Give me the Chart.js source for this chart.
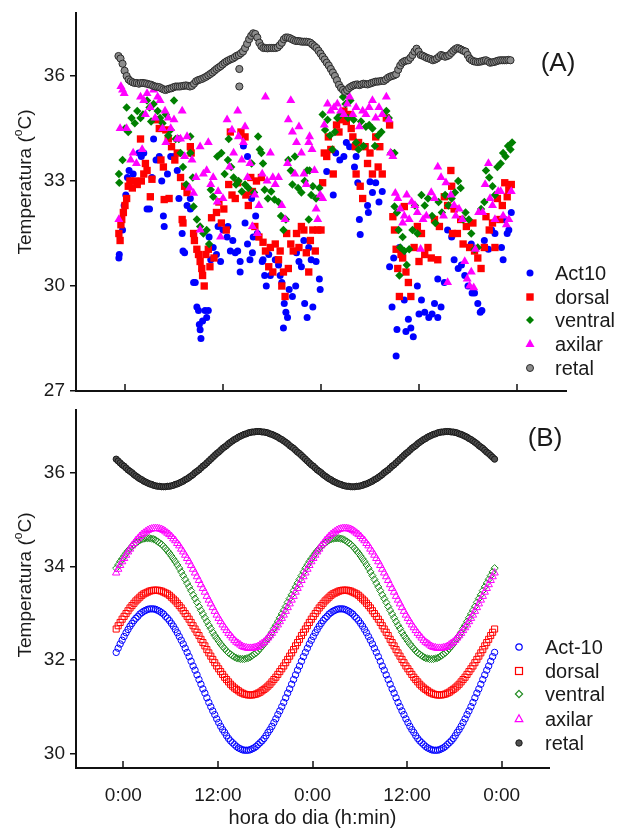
<!DOCTYPE html>
<html lang="pt">
<head>
<meta charset="utf-8">
<title>Temperatura</title>
<script src="https://cdn.jsdelivr.net/npm/chart.js@4.4.1/dist/chart.umd.min.js"></script>
<style>
  html, body { margin:0; padding:0; background:#ffffff; }
  #wrap { position:relative; width:618px; height:830px; overflow:hidden; font-family:"Liberation Sans", Arial, sans-serif; color:#1a1a1a; }
  canvas { position:absolute; left:0; }
  #cA { top:0; }
  #cB { top:400px; }
  .ytitle { position:absolute; width:300px; height:24px; line-height:24px; text-align:center; font-size:19px; transform:rotate(-90deg); white-space:nowrap; }
  .ytitle sup { font-size:12px; line-height:0; position:relative; top:-2px; vertical-align:super; }
  .panel { position:absolute; font-size:26px; line-height:30px; width:60px; text-align:center; }
  .leg { position:absolute; font-size:20px; line-height:24px; height:24px; white-space:nowrap; }
  .leg svg { position:absolute; }
</style>
</head>
<body>
<div id="wrap">
  <canvas id="cA" width="618" height="400"></canvas>
  <canvas id="cB" width="618" height="430"></canvas>
  <div class="ytitle" style="left:-125px;top:169.5px;">Temperatura (<sup>o</sup>C)</div>
  <div class="ytitle" style="left:-125px;top:573px;">Temperatura (<sup>o</sup>C)</div>
  <div class="panel" style="left:528px;top:47px;">(A)</div>
  <div class="panel" style="left:515px;top:422px;">(B)</div>
</div>
<script>
// ---------- axis ticks ----------
const tickHours = [0, 12, 24, 36, 48];
const tickLabels = ['0:00', '12:00', '0:00', '12:00', '0:00'];
const yTicksA = [27, 30, 33, 36];
const yTicksB = [30, 32, 34, 36];

// ---------- legend names ----------
const legendNamesA = ['Act10', 'dorsal', 'ventral', 'axilar', 'retal'];
const legendNamesB = ['Act-10', 'dorsal', 'ventral', 'axilar', 'retal'];

// ---------- panel A : measured values [hour, °C] ----------
const act10A = [[-0.75,30.8],[-0.7,30.9],[-0.3,31.6],[-0.1,32.3],[0.1,32.6],[0.3,33.1],[0.5,33.3],[1.0,33.2],[1.7,33.8],[2.0,33.7],[2.3,33.8],[2.7,32.2],[3.0,32.2],[3.3,33.1],[3.5,34.2],[3.8,33.6],[4.2,33.7],[4.5,33.0],[4.7,32.0],[4.8,31.7],[5.2,33.2],[5.6,33.7],[6.0,33.7],[6.4,33.3],[6.6,32.5],[7.0,31.5],[7.1,31.0],[7.3,30.95],[7.6,32.3],[8.0,32.2],[8.0,32.5],[8.4,30.1],[8.6,30.1],[8.8,29.4],[9.0,29.3],[9.1,28.9],[9.2,28.75],[9.3,28.5],[9.5,29.0],[9.8,29.3],[10.0,29.1],[10.2,29.3],[10.3,31.4],[10.5,30.75],[10.8,31.1],[11.2,30.9],[11.4,31.7],[11.7,30.7],[12.0,31.6],[12.5,31.4],[12.6,31.7],[12.9,31.0],[13.2,31.3],[13.5,30.95],[13.8,31.0],[14.1,30.4],[14.1,30.7],[14.5,34.0],[14.7,31.8],[15.0,33.7],[15.0,31.2],[15.3,30.75],[15.5,32.5],[15.6,30.95],[15.7,31.4],[16.0,32.0],[16.2,31.5],[16.8,30.7],[16.9,30.75],[17.1,30.3],[17.3,30.0],[17.6,30.9],[17.8,30.3],[18.4,30.75],[18.8,30.6],[19.0,30.3],[19.2,30.1],[19.4,28.8],[19.5,29.5],[19.7,29.25],[19.9,29.1],[20.1,29.9],[20.5,29.7],[20.9,30.0],[21.0,30.95],[21.3,30.7],[21.6,30.55],[21.9,31.3],[22.0,29.5],[22.3,29.1],[22.5,31.1],[22.8,30.75],[23.0,29.4],[23.4,30.7],[23.8,30.2],[23.9,29.9],[24.7,33.27],[25.5,32.6],[25.8,33.8],[26.3,33.6],[26.8,33.7],[27.1,34.1],[27.5,33.98],[28.1,33.4],[28.3,33.7],[28.5,32.95],[28.7,31.9],[28.8,31.47],[29.7,32.3],[29.8,32.1],[30.0,32.98],[30.3,32.67],[30.7,32.95],[31.1,32.4],[31.5,32.7],[32.4,30.55],[32.7,29.4],[32.9,30.8],[33.2,28.0],[33.3,28.76],[33.6,31.1],[34.0,30.95],[34.2,29.6],[34.4,28.7],[34.7,29.05],[35.0,28.8],[35.3,28.55],[35.8,30.0],[36.0,29.2],[36.3,29.6],[36.7,29.25],[37.2,29.1],[37.6,29.2],[37.9,29.5],[38.3,30.2],[38.3,29.1],[38.7,29.4],[39.1,30.1],[39.5,31.6],[40.0,31.4],[40.3,30.75],[40.8,30.5],[41.2,30.6],[41.6,30.3],[42.0,30.0],[42.4,31.2],[42.5,29.8],[42.8,29.8],[43.2,29.5],[43.5,29.25],[43.7,29.3],[44.0,31.3],[44.5,31.05],[44.9,31.6],[45.3,31.5],[46.1,31.1],[46.3,30.75],[46.5,31.9],[46.8,31.5],[47.0,31.6],[47.3,32.1]];

const dorsalA = [[-0.75,31.5],[-0.6,31.3],[-0.5,31.75],[-0.4,31.9],[-0.2,32.1],[0.0,32.3],[0.2,32.5],[0.4,32.85],[0.6,33.0],[0.9,32.8],[1.2,33.0],[1.5,32.9],[1.9,34.2],[2.0,33.0],[2.3,33.2],[2.5,33.5],[2.7,33.3],[3.1,32.55],[3.3,33.05],[3.9,34.75],[4.2,34.5],[4.4,33.6],[4.7,33.4],[4.8,32.47],[5.0,34.46],[5.3,34.2],[5.4,32.5],[5.7,33.98],[6.1,33.6],[6.4,33.8],[6.8,33.1],[7.0,31.9],[7.1,31.8],[7.3,32.85],[7.6,32.67],[8.0,33.98],[8.1,33.8],[8.4,31.5],[8.5,31.3],[8.8,31.05],[9.0,30.9],[9.2,30.7],[9.4,30.5],[9.5,30.3],[9.7,30.0],[9.9,30.9],[10.2,31.05],[10.4,30.55],[10.6,31.95],[10.9,30.8],[11.2,32.1],[11.5,32.4],[11.8,31.8],[12.1,32.2],[12.4,31.6],[12.7,32.9],[12.9,34.4],[13.1,32.6],[13.5,32.5],[13.8,32.95],[14.2,34.4],[14.7,34.26],[14.8,32.6],[15.1,32.3],[15.4,33.1],[15.6,32.7],[15.9,31.7],[16.1,33.0],[16.4,31.4],[16.7,33.1],[16.9,31.25],[17.2,31.0],[17.6,30.55],[17.8,31.1],[18.1,30.4],[18.4,31.2],[18.8,30.75],[19.0,31.0],[19.2,30.0],[19.4,30.4],[19.6,29.7],[19.8,31.5],[20.0,30.5],[20.3,31.2],[20.6,31.0],[21.0,31.5],[21.3,31.1],[21.6,31.7],[21.9,31.6],[22.2,30.95],[22.5,30.4],[22.7,31.3],[23.0,31.6],[23.3,31.0],[23.6,31.6],[24.0,31.6],[24.2,32.95],[24.4,33.8],[24.7,33.7],[24.9,34.26],[25.2,33.9],[25.5,33.2],[25.9,34.6],[26.2,34.4],[26.5,34.75],[26.8,35.0],[27.1,34.7],[27.4,34.9],[27.7,34.5],[27.9,34.26],[28.2,33.98],[28.3,33.2],[28.6,34.1],[28.8,32.85],[29.1,32.5],[29.4,33.98],[29.7,33.5],[30.0,33.8],[30.3,33.2],[30.7,34.26],[31.0,33.4],[31.2,33.98],[31.5,33.2],[32.0,34.8],[32.4,34.6],[32.8,31.98],[33.0,31.6],[33.2,31.05],[33.4,30.5],[33.6,29.7],[33.8,30.9],[34.0,30.8],[34.2,32.27],[34.4,30.4],[34.7,30.1],[35.0,29.7],[35.4,31.1],[35.8,31.7],[36.0,30.7],[36.3,31.5],[36.7,30.9],[37.1,31.1],[37.5,30.8],[37.9,31.9],[38.3,30.75],[38.5,31.7],[39.1,32.55],[39.5,32.3],[39.9,33.3],[40.0,32.85],[40.1,31.5],[40.3,32.2],[40.7,31.5],[41.1,31.9],[41.4,31.2],[41.8,31.7],[42.2,31.1],[42.6,31.8],[42.8,31.0],[43.2,30.8],[43.6,30.5],[44.0,31.1],[44.2,31.98],[44.6,31.6],[45.0,31.8],[45.3,31.1],[45.6,32.5],[45.9,31.9],[46.2,32.3],[46.5,32.95],[46.8,32.55],[47.0,32.75],[47.3,32.9]];

const ventralA = [[-0.75,33.2],[-0.7,32.95],[-0.3,33.6],[0.0,34.5],[0.2,35.1],[0.4,34.4],[0.8,34.8],[1.2,34.65],[1.5,35.0],[1.9,34.8],[2.2,34.9],[2.7,35.3],[3.0,35.1],[3.2,34.7],[3.5,35.2],[4.0,35.0],[4.3,34.8],[4.6,34.65],[5.0,34.9],[5.3,34.3],[5.6,34.46],[6.0,35.3],[6.2,34.2],[6.6,34.2],[6.8,33.8],[7.1,33.4],[7.5,32.9],[8.0,33.8],[8.0,34.27],[8.3,33.1],[8.4,32.27],[8.8,31.9],[9.2,31.7],[9.6,31.5],[10.0,31.6],[10.3,31.2],[10.5,32.75],[10.8,32.55],[11.3,33.7],[11.8,33.8],[12.2,33.2],[12.6,33.6],[12.7,34.2],[13.0,33.4],[13.3,33.1],[13.6,32.9],[13.9,33.0],[14.3,32.7],[14.7,32.9],[15.1,32.8],[15.5,33.5],[15.8,32.67],[16.3,34.27],[16.5,33.9],[16.7,33.8],[16.9,33.5],[17.1,32.75],[17.5,32.5],[17.9,32.7],[18.3,32.47],[18.8,32.4],[19.1,32.0],[19.4,31.6],[19.7,31.9],[20.0,33.6],[20.3,33.3],[20.5,32.9],[20.8,33.7],[21.2,32.8],[21.6,32.67],[22.0,33.0],[22.3,33.3],[22.5,31.9],[22.6,33.3],[22.8,32.6],[23.0,32.85],[23.4,32.5],[23.8,32.8],[24.2,34.9],[24.5,34.46],[24.8,34.75],[25.1,34.3],[25.4,33.9],[25.7,34.4],[26.0,34.8],[26.4,34.9],[26.7,35.4],[27.0,35.2],[27.3,34.8],[27.6,35.3],[28.0,34.75],[28.3,34.1],[28.6,33.9],[28.9,34.7],[29.2,34.0],[29.5,34.55],[29.9,34.6],[30.3,34.5],[30.6,34.0],[31.0,34.3],[31.4,34.4],[32.0,35.0],[32.3,34.8],[32.6,33.8],[33.0,33.8],[33.0,32.27],[33.3,32.1],[33.5,31.6],[33.6,30.3],[33.7,31.1],[34.0,31.4],[34.2,31.0],[34.5,30.6],[34.8,31.05],[35.2,31.6],[35.5,32.3],[35.8,31.5],[36.3,32.6],[36.7,32.3],[37.1,32.5],[37.6,32.0],[38.0,31.8],[38.4,32.4],[38.8,32.1],[39.2,32.6],[39.6,32.3],[40.0,32.5],[40.4,32.67],[40.8,33.0],[41.1,32.8],[41.4,31.9],[41.7,32.1],[42.1,31.9],[42.4,31.5],[42.8,31.05],[43.2,31.1],[43.6,32.2],[44.0,32.4],[44.2,33.3],[44.6,33.1],[45.0,32.85],[45.3,32.6],[45.6,33.4],[46.0,33.5],[46.3,33.8],[46.6,33.7],[46.9,34.0],[47.2,33.9],[47.4,34.1]];

const axilarA = [[-0.75,31.9],[-0.6,34.5],[-0.5,35.7],[-0.3,35.6],[-0.1,35.5],[0.2,34.5],[0.7,33.6],[1.0,33.8],[1.4,33.5],[1.9,35.4],[2.1,33.9],[2.3,35.3],[2.5,34.9],[2.7,35.5],[3.1,35.1],[3.5,35.6],[3.7,34.8],[4.0,35.4],[4.3,35.3],[4.6,34.5],[4.9,35.0],[5.0,34.1],[5.3,34.8],[5.6,34.5],[6.0,34.75],[6.4,34.2],[6.8,34.2],[7.0,35.0],[7.3,33.7],[7.6,34.27],[7.9,32.8],[8.2,33.6],[8.4,32.65],[8.7,33.1],[9.2,33.98],[9.2,31.6],[9.6,33.2],[10.0,33.3],[10.2,34.1],[10.5,32.9],[10.8,33.1],[11.3,32.4],[11.4,32.7],[11.7,31.4],[12.0,32.5],[12.5,34.75],[12.8,33.4],[13.1,34.46],[13.3,33.8],[13.8,35.0],[13.9,34.27],[14.3,33.6],[14.5,34.1],[14.7,34.55],[15.0,33.1],[15.3,33.5],[15.6,31.7],[15.9,32.6],[16.2,31.5],[16.4,32.3],[16.8,33.2],[17.2,35.4],[17.4,33.0],[17.8,33.8],[18.1,33.1],[18.4,32.9],[18.8,33.1],[19.2,32.3],[19.6,31.9],[19.9,33.5],[20.0,34.75],[20.3,35.3],[20.5,34.4],[20.8,33.2],[21.0,34.1],[21.3,34.55],[21.6,33.8],[21.9,33.2],[22.2,32.9],[22.5,34.1],[22.6,34.27],[22.9,33.9],[23.2,33.3],[23.4,32.2],[23.6,31.9],[23.9,32.6],[24.2,32.5],[24.4,34.6],[24.8,35.2],[25.2,35.0],[25.6,35.1],[26.0,35.2],[26.4,35.0],[26.8,34.9],[27.2,35.2],[27.5,35.4],[27.9,34.9],[28.3,35.1],[28.7,34.55],[29.1,35.0],[29.5,34.9],[29.9,35.1],[30.3,35.3],[30.7,34.8],[31.1,35.1],[31.5,34.9],[32.0,35.4],[32.3,34.75],[32.5,33.8],[32.8,33.7],[33.1,32.65],[33.4,32.5],[33.7,32.2],[34.0,31.8],[34.2,32.0],[34.5,32.6],[34.8,31.9],[35.1,32.4],[35.5,32.3],[35.8,32.1],[36.2,31.05],[36.5,31.9],[36.9,32.0],[37.5,32.67],[37.9,32.5],[38.3,33.4],[38.7,33.1],[39.0,32.0],[39.3,32.95],[39.5,30.1],[39.9,32.6],[40.3,32.3],[40.5,32.0],[40.9,32.2],[41.3,31.9],[41.6,30.7],[41.9,30.2],[42.2,30.0],[42.4,30.4],[42.7,29.95],[42.9,31.05],[43.3,32.1],[43.8,32.1],[44.1,32.9],[44.5,33.5],[44.7,32.5],[45.0,32.3],[45.3,31.9],[45.7,32.7],[46.0,32.7],[46.3,32.0],[46.7,31.75],[47.0,31.9],[47.3,32.7]];

const retalA = [[-0.8,36.57],[-0.55,36.5],[-0.3,36.35],[-0.05,36.15],[0.2,36.0],[0.45,35.9],[0.7,35.85],[0.95,35.82],[1.2,35.8],[1.45,35.8],[1.7,35.78],[1.95,35.8],[2.2,35.8],[2.45,35.79],[2.7,35.78],[2.95,35.76],[3.2,35.75],[3.45,35.72],[3.7,35.7],[3.95,35.69],[4.2,35.68],[4.45,35.65],[4.7,35.62],[4.95,35.6],[5.2,35.62],[5.45,35.64],[5.7,35.65],[5.95,35.68],[6.2,35.7],[6.45,35.7],[6.7,35.7],[6.95,35.71],[7.2,35.72],[7.45,35.73],[7.7,35.72],[7.95,35.7],[8.2,35.72],[8.45,35.78],[8.7,35.85],[8.95,35.88],[9.2,35.9],[9.45,35.92],[9.7,35.95],[9.95,35.98],[10.2,36.02],[10.45,36.06],[10.7,36.1],[10.95,36.15],[11.2,36.2],[11.45,36.24],[11.7,36.28],[11.95,36.33],[12.2,36.38],[12.45,36.42],[12.7,36.45],[12.95,36.48],[13.2,36.5],[13.45,36.54],[13.7,36.58],[13.95,36.6],[14.0,36.2],[14.0,35.7],[14.2,36.65],[14.45,36.7],[14.7,36.8],[14.95,36.92],[15.2,37.05],[15.45,37.15],[15.7,37.22],[15.95,37.2],[16.2,37.1],[16.45,36.95],[16.7,36.85],[16.95,36.8],[17.2,36.8],[17.45,36.79],[17.7,36.8],[17.95,36.8],[18.2,36.8],[18.45,36.8],[18.7,36.82],[18.95,36.88],[19.2,36.95],[19.45,37.05],[19.7,37.1],[19.95,37.1],[20.2,37.08],[20.45,37.05],[20.7,37.02],[20.95,37.0],[21.2,37.0],[21.45,36.99],[21.7,36.98],[21.95,36.98],[22.2,36.98],[22.45,36.97],[22.7,36.95],[22.95,36.9],[23.2,36.85],[23.45,36.8],[23.7,36.72],[23.95,36.64],[24.2,36.55],[24.45,36.47],[24.7,36.38],[24.95,36.3],[25.2,36.2],[25.45,36.1],[25.7,36.0],[25.95,35.88],[26.2,35.75],[26.45,35.66],[26.7,35.6],[26.95,35.55],[27.2,35.6],[27.45,35.66],[27.7,35.7],[27.95,35.73],[28.2,35.75],[28.45,35.76],[28.7,35.74],[28.95,35.76],[29.2,35.78],[29.45,35.77],[29.7,35.76],[29.95,35.78],[30.2,35.8],[30.45,35.82],[30.7,35.84],[30.95,35.84],[31.2,35.85],[31.45,35.86],[31.7,35.86],[31.95,35.9],[32.2,35.95],[32.45,35.98],[32.7,36.0],[32.95,36.02],[33.2,36.05],[33.45,36.18],[33.7,36.3],[33.95,36.38],[34.2,36.42],[34.45,36.44],[34.7,36.45],[34.95,36.52],[35.2,36.6],[35.45,36.7],[35.7,36.78],[35.95,36.7],[36.2,36.6],[36.45,36.58],[36.7,36.55],[36.95,36.52],[37.2,36.5],[37.45,36.48],[37.7,36.45],[37.95,36.47],[38.2,36.5],[38.45,36.55],[38.7,36.6],[38.95,36.58],[39.2,36.55],[39.45,36.57],[39.7,36.6],[39.95,36.66],[40.2,36.72],[40.45,36.77],[40.7,36.8],[40.95,36.78],[41.2,36.75],[41.45,36.72],[41.7,36.7],[41.95,36.6],[42.2,36.5],[42.45,36.45],[42.7,36.42],[42.95,36.41],[43.2,36.4],[43.45,36.41],[43.7,36.42],[43.95,36.44],[44.2,36.45],[44.45,36.42],[44.7,36.38],[44.95,36.39],[45.2,36.4],[45.45,36.42],[45.7,36.44],[45.95,36.45],[46.2,36.45],[46.45,36.45],[46.7,36.45],[46.95,36.46],[47.2,36.45]];

// ---------- panel B : fitted curves, hours and °C ----------
const hoursB = [-0.9,-0.65,-0.4,-0.15,0.1,0.35,0.6,0.85,1.1,1.35,1.6,1.85,2.1,2.35,2.6,2.85,3.1,3.35,3.6,3.85,4.1,4.35,4.6,4.85,5.1,5.35,5.6,5.85,6.1,6.35,6.6,6.85,7.1,7.35,7.6,7.85,8.1,8.35,8.6,8.85,9.1,9.35,9.6,9.85,10.1,10.35,10.6,10.85,11.1,11.35,11.6,11.85,12.1,12.35,12.6,12.85,13.1,13.35,13.6,13.85,14.1,14.35,14.6,14.85,15.1,15.35,15.6,15.85,16.1,16.35,16.6,16.85,17.1,17.35,17.6,17.85,18.1,18.35,18.6,18.85,19.1,19.35,19.6,19.85,20.1,20.35,20.6,20.85,21.1,21.35,21.6,21.85,22.1,22.35,22.6,22.85,23.1,
  23.35,23.6,23.85,24.1,24.35,24.6,24.85,25.1,25.35,25.6,25.85,26.1,26.35,26.6,26.85,27.1,27.35,27.6,27.85,28.1,28.35,28.6,28.85,29.1,29.35,29.6,29.85,30.1,30.35,30.6,30.85,31.1,31.35,31.6,31.85,32.1,32.35,32.6,32.85,33.1,33.35,33.6,33.85,34.1,34.35,34.6,34.85,35.1,35.35,35.6,35.85,36.1,36.35,36.6,36.85,37.1,37.35,37.6,37.85,38.1,38.35,38.6,38.85,39.1,39.35,39.6,39.85,40.1,40.35,40.6,40.85,41.1,41.35,41.6,41.85,42.1,42.35,42.6,42.85,43.1,43.35,43.6,43.85,44.1,44.35,44.6,44.85,45.1,45.35,45.6,45.85,46.1,46.35,46.6,46.85,47.1];

const act10B = [32.16,32.25,32.34,32.42,32.50,32.58,32.65,32.72,32.78,32.84,32.89,32.93,32.98,33.01,33.04,33.06,33.08,33.09,33.09,
  33.09,33.08,33.06,33.04,33.01,32.98,32.93,32.89,32.84,32.78,32.72,32.65,32.58,32.50,32.42,32.34,32.25,32.16,32.07,31.97,31.87,31.78,31.68,31.58,31.48,31.38,31.29,31.19,31.09,31.00,30.91,30.83,30.74,30.66,30.58,30.51,30.45,30.38,30.32,30.27,30.23,30.19,30.15,30.12,30.10,30.08,30.07,30.07,
  30.07,30.08,30.10,30.12,30.15,30.19,30.23,30.27,30.32,30.38,30.45,30.51,30.58,30.66,30.74,30.83,30.91,31.00,31.09,31.19,31.29,31.38,31.48,31.58,31.68,31.78,31.87,31.97,32.07,32.16,32.25,32.34,32.42,32.50,32.58,32.65,32.72,32.78,32.84,32.89,32.93,32.98,33.01,33.04,33.06,33.08,33.09,33.09,
  33.09,33.08,33.06,33.04,33.01,32.98,32.93,32.89,32.84,32.78,32.72,32.65,32.58,32.50,32.42,32.34,32.25,32.16,32.07,31.97,31.87,31.78,31.68,31.58,31.48,31.38,31.29,31.19,31.09,31.00,30.91,30.83,30.74,30.66,30.58,30.51,30.45,30.38,30.32,30.27,30.23,30.19,30.15,30.12,30.10,30.08,30.07,30.07,
  30.07,30.08,30.10,30.12,30.15,30.19,30.23,30.27,30.32,30.38,30.45,30.51,30.58,30.66,30.74,30.83,30.91,31.00,31.09,31.19,31.29,31.38,31.48,31.58,31.68,31.78,31.87,31.97,32.07,32.16];

const dorsalB = [32.66,32.73,32.80,32.87,32.93,32.99,33.05,33.11,33.16,33.21,33.26,33.30,33.34,33.38,33.41,33.43,33.45,33.47,33.48,33.49,33.49,
  33.49,33.48,33.47,33.45,33.43,33.41,33.38,33.34,33.30,33.26,33.21,33.16,33.11,33.05,32.99,32.93,32.87,32.80,32.73,32.66,32.59,32.52,32.44,32.37,32.30,32.22,32.15,32.08,32.01,31.94,31.87,31.81,31.75,31.69,31.63,31.58,31.53,31.48,31.44,31.40,31.37,31.34,31.31,31.29,31.27,31.26,31.25,31.25,
  31.25,31.26,31.27,31.29,31.31,31.34,31.37,31.40,31.44,31.48,31.53,31.58,31.63,31.69,31.75,31.81,31.87,31.94,32.01,32.08,32.15,32.22,32.30,32.37,32.44,32.52,32.59,32.66,32.73,32.80,32.87,32.93,32.99,33.05,33.11,33.16,33.21,33.26,33.30,33.34,33.38,33.41,33.43,33.45,33.47,33.48,33.49,33.49,
  33.49,33.48,33.47,33.45,33.43,33.41,33.38,33.34,33.30,33.26,33.21,33.16,33.11,33.05,32.99,32.93,32.87,32.80,32.73,32.66,32.59,32.52,32.44,32.37,32.30,32.22,32.15,32.08,32.01,31.94,31.87,31.81,31.75,31.69,31.63,31.58,31.53,31.48,31.44,31.40,31.37,31.34,31.31,31.29,31.27,31.26,31.25,31.25,
  31.25,31.26,31.27,31.29,31.31,31.34,31.37,31.40,31.44,31.48,31.53,31.58,31.63,31.69,31.75,31.81,31.87,31.94,32.01,32.08,32.15,32.22,32.30,32.37,32.44,32.52,32.59,32.66];

const ventralB = [33.96,34.03,34.10,34.16,34.22,34.28,34.33,34.38,34.43,34.47,34.50,34.53,34.56,34.58,34.59,34.60,34.60,
  34.60,34.59,34.58,34.56,34.53,34.50,34.47,34.43,34.38,34.33,34.28,34.22,34.16,34.10,34.03,33.96,33.88,33.80,33.72,33.64,33.56,33.48,33.39,33.31,33.23,33.14,33.06,32.98,32.90,32.82,32.74,32.67,32.59,32.52,32.46,32.40,32.34,32.29,32.24,32.19,32.15,32.12,32.09,32.06,32.04,32.03,32.02,32.02,
  32.02,32.03,32.04,32.06,32.09,32.12,32.15,32.19,32.24,32.29,32.34,32.40,32.46,32.52,32.59,32.67,32.74,32.82,32.90,32.98,33.06,33.14,33.23,33.31,33.39,33.48,33.56,33.64,33.72,33.80,33.88,33.96,34.03,34.10,34.16,34.22,34.28,34.33,34.38,34.43,34.47,34.50,34.53,34.56,34.58,34.59,34.60,34.60,
  34.60,34.59,34.58,34.56,34.53,34.50,34.47,34.43,34.38,34.33,34.28,34.22,34.16,34.10,34.03,33.96,33.88,33.80,33.72,33.64,33.56,33.48,33.39,33.31,33.23,33.14,33.06,32.98,32.90,32.82,32.74,32.67,32.59,32.52,32.46,32.40,32.34,32.29,32.24,32.19,32.15,32.12,32.09,32.06,32.04,32.03,32.02,32.02,
  32.02,32.03,32.04,32.06,32.09,32.12,32.15,32.19,32.24,32.29,32.34,32.40,32.46,32.52,32.59,32.67,32.74,32.82,32.90,32.98,33.06,33.14,33.23,33.31,33.39,33.48,33.56,33.64,33.72,33.80,33.88,33.96];

const axilarB = [33.86,33.94,34.02,34.10,34.17,34.24,34.31,34.37,34.44,34.49,34.55,34.59,34.64,34.68,34.71,34.74,34.77,34.79,34.80,34.81,34.81,
  34.81,34.80,34.79,34.77,34.74,34.71,34.68,34.64,34.59,34.55,34.49,34.44,34.37,34.31,34.24,34.17,34.10,34.02,33.94,33.86,33.78,33.70,33.61,33.53,33.45,33.36,33.28,33.20,33.12,33.04,32.96,32.89,32.82,32.75,32.69,32.63,32.57,32.52,32.47,32.42,32.38,32.35,32.32,32.29,32.27,32.26,32.25,32.25,
  32.25,32.26,32.27,32.29,32.32,32.35,32.38,32.42,32.47,32.52,32.57,32.63,32.69,32.75,32.82,32.89,32.96,33.04,33.12,33.20,33.28,33.36,33.45,33.53,33.61,33.70,33.78,33.86,33.94,34.02,34.10,34.17,34.24,34.31,34.37,34.44,34.49,34.55,34.59,34.64,34.68,34.71,34.74,34.77,34.79,34.80,34.81,34.81,
  34.81,34.80,34.79,34.77,34.74,34.71,34.68,34.64,34.59,34.55,34.49,34.44,34.37,34.31,34.24,34.17,34.10,34.02,33.94,33.86,33.78,33.70,33.61,33.53,33.45,33.36,33.28,33.20,33.12,33.04,32.96,32.89,32.82,32.75,32.69,32.63,32.57,32.52,32.47,32.42,32.38,32.35,32.32,32.29,32.27,32.26,32.25,32.25,
  32.25,32.26,32.27,32.29,32.32,32.35,32.38,32.42,32.47,32.52,32.57,32.63,32.69,32.75,32.82,32.89,32.96,33.04,33.12,33.20,33.28,33.36,33.45,33.53,33.61,33.70,33.78,33.86];

const retalB = [36.29,36.25,36.21,36.17,36.14,36.10,36.06,36.03,36.00,35.96,35.93,35.90,35.87,35.85,35.82,35.80,35.78,35.76,35.75,35.73,35.72,35.71,35.71,35.70,35.70,
  35.70,35.71,35.71,35.72,35.73,35.75,35.76,35.78,35.80,35.82,35.85,35.87,35.90,35.93,35.96,36.00,36.03,36.06,36.10,36.14,36.17,36.21,36.25,36.29,36.33,36.37,36.41,36.44,36.48,36.52,36.55,36.58,36.62,36.65,36.68,36.71,36.73,36.76,36.78,36.80,36.82,36.83,36.85,36.86,36.87,36.87,36.88,36.88,
  36.88,36.87,36.87,36.86,36.85,36.83,36.82,36.80,36.78,36.76,36.73,36.71,36.68,36.65,36.62,36.58,36.55,36.52,36.48,36.44,36.41,36.37,36.33,36.29,36.25,36.21,36.17,36.14,36.10,36.06,36.03,36.00,35.96,35.93,35.90,35.87,35.85,35.82,35.80,35.78,35.76,35.75,35.73,35.72,35.71,35.71,35.70,35.70,
  35.70,35.71,35.71,35.72,35.73,35.75,35.76,35.78,35.80,35.82,35.85,35.87,35.90,35.93,35.96,36.00,36.03,36.06,36.10,36.14,36.17,36.21,36.25,36.29,36.33,36.37,36.41,36.44,36.48,36.52,36.55,36.58,36.62,36.65,36.68,36.71,36.73,36.76,36.78,36.80,36.82,36.83,36.85,36.86,36.87,36.87,36.88,36.88,
  36.88,36.87,36.87,36.86,36.85,36.83,36.82,36.80,36.78,36.76,36.73,36.71,36.68,36.65,36.62,36.58,36.55,36.52,36.48,36.44,36.41,36.37,36.33,36.29];

// ---------- rendering ----------
const FONT = '"Liberation Sans", Arial, sans-serif';
const INK = '#1a1a1a';

function ds(label, data, style, fill, stroke, r, bw, order) {
  return { label, data, pointStyle: style, backgroundColor: fill, borderColor: stroke,
    pointRadius: r, pointHoverRadius: r, pointBorderWidth: bw, order, showLine: false };
}
function toXY(vals) { return hoursB.map((h, i) => ({ x: h, y: vals[i] })); }

const innerTicks = {
  id: 'innerTicks',
  afterDraw(chart) {
    const { ctx, chartArea, scales } = chart;
    ctx.save();
    ctx.strokeStyle = '#111';
    ctx.lineWidth = 1.5;
    tickHours.forEach(h => {
      const px = Math.round(scales.x.getPixelForValue(h));
      ctx.beginPath();
      ctx.moveTo(px, chartArea.bottom);
      ctx.lineTo(px, chartArea.bottom - 7);
      ctx.stroke();
    });
    ctx.restore();
  }
};

function yScale(min, max, ticks) {
  return {
    type: 'linear', min, max,
    afterBuildTicks: s => { s.ticks = ticks.map(v => ({ value: v })); },
    afterFit: s => { s.width = 76; s.paddingTop = 0; s.paddingBottom = 0; },
    grid: { display: true, drawOnChartArea: false, drawTicks: true, tickLength: 6, color: '#111', lineWidth: 1.5 },
    border: { display: true, color: '#111', width: 2 },
    ticks: { font: { family: FONT, size: 19 }, color: INK, padding: 5, callback: v => String(v) }
  };
}
function xScale(height, showLabels) {
  return {
    type: 'linear', min: -6, max: 54,
    afterBuildTicks: s => { s.ticks = tickHours.map(v => ({ value: v })); },
    afterFit: s => { s.height = height; s.paddingLeft = 0; s.paddingRight = 0; },
    grid: { display: false },
    border: { display: true, color: '#111', width: 2 },
    ticks: { display: showLabels, font: { family: FONT, size: 19 }, color: INK, padding: 8,
      maxRotation: 0, callback: v => tickLabels[tickHours.indexOf(v)] },
    title: { display: showLabels, text: 'hora do dia (h:min)', font: { family: FONT, size: 20 }, color: INK, padding: { top: 0, bottom: 0 } }
  };
}
const common = {
  responsive: false, animation: false, events: [],
  plugins: { legend: { display: false }, tooltip: { enabled: false } }
};

new Chart(document.getElementById('cA'), {
  type: 'scatter',
  data: { datasets: [
    ds('Act10', act10A, 'circle', '#0000ff', '#0000ff', 3.5, 0, 5),
    ds('dorsal', dorsalA, 'rect', '#ff0000', '#ff0000', 5.2, 0, 4),
    ds('ventral', ventralA, 'rectRot', '#008000', '#008000', 4.2, 0, 3),
    ds('axilar', axilarA, 'triangle', '#ff00ff', '#ff00ff', 5.2, 0, 2),
    ds('retal', retalA, 'circle', '#8c8c8c', '#2b2b2b', 3.6, 1, 1)
  ] },
  options: Object.assign({}, common, {
    layout: { padding: { left: 0, right: 52, top: 13, bottom: 0 } },
    scales: { x: xScale(9, false), y: yScale(27, 37.8, yTicksA) }
  }),
  plugins: [innerTicks]
});

new Chart(document.getElementById('cB'), {
  type: 'scatter',
  data: { datasets: [
    ds('Act-10', toXY(act10B), 'circle', 'rgba(0,0,0,0)', '#0000ff', 3.2, 1, 5),
    ds('dorsal', toXY(dorsalB), 'rect', 'rgba(0,0,0,0)', '#ff0000', 4.3, 1, 4),
    ds('ventral', toXY(ventralB), 'rectRot', 'rgba(0,0,0,0)', '#1f8a1f', 3.6, 1, 3),
    ds('axilar', toXY(axilarB), 'triangle', 'rgba(0,0,0,0)', '#ff00ff', 4.3, 1, 2),
    ds('retal', toXY(retalB), 'circle', '#505050', '#1a1a1a', 3.1, 1, 1)
  ] },
  options: Object.assign({}, common, {
    layout: { padding: { left: 0, right: 69, top: 10, bottom: 0 } },
    scales: { x: xScale(62, true), y: yScale(29.69, 37.34, yTicksB) }
  }),
  plugins: [innerTicks]
});

// ---------- legends (HTML text + small SVG markers) ----------
const markersA = [
  '<circle cx="7" cy="7" r="3.5" fill="#0000ff"/>',
  '<rect x="3.3" y="3.3" width="7.4" height="7.4" fill="#ff0000"/>',
  '<polygon points="7,3 11,7 7,11 3,7" fill="#008000"/>',
  '<polygon points="7,2 11.5,10 2.5,10" fill="#ff00ff"/>',
  '<circle cx="7" cy="7" r="3.5" fill="#8c8c8c" stroke="#2b2b2b" stroke-width="1"/>'
];
const markersB = [
  '<circle cx="7" cy="7" r="3.2" fill="none" stroke="#0000ff" stroke-width="1.2"/>',
  '<rect x="3.5" y="3.5" width="7" height="7" fill="none" stroke="#ff0000" stroke-width="1.2"/>',
  '<polygon points="7,3.4 10.6,7 7,10.6 3.4,7" fill="none" stroke="#1f8a1f" stroke-width="1.2"/>',
  '<polygon points="7,2.8 10.8,9.6 3.2,9.6" fill="none" stroke="#ff00ff" stroke-width="1.2"/>',
  '<circle cx="7" cy="7" r="3.2" fill="#505050" stroke="#1a1a1a" stroke-width="1"/>'
];
const wrap = document.getElementById('wrap');
function buildLegend(names, markers, mx, tx, rows) {
  names.forEach((name, i) => {
    const d = document.createElement('div');
    d.className = 'leg';
    d.style.left = (mx - 7) + 'px';
    d.style.top = (rows[i] - 12) + 'px';
    d.innerHTML = '<svg width="14" height="14" style="left:0;top:5px">' + markers[i] + '</svg>' +
      '<span style="position:absolute;left:' + (tx - mx + 7) + 'px;top:0">' + name + '</span>';
    wrap.appendChild(d);
  });
}
buildLegend(legendNamesA, markersA, 530, 555, [272.7, 296.7, 320.3, 344.3, 368.3]);
buildLegend(legendNamesB, markersB, 519, 545, [646.7, 670.7, 694.3, 719, 743.3]);
</script>
</body>
</html>
